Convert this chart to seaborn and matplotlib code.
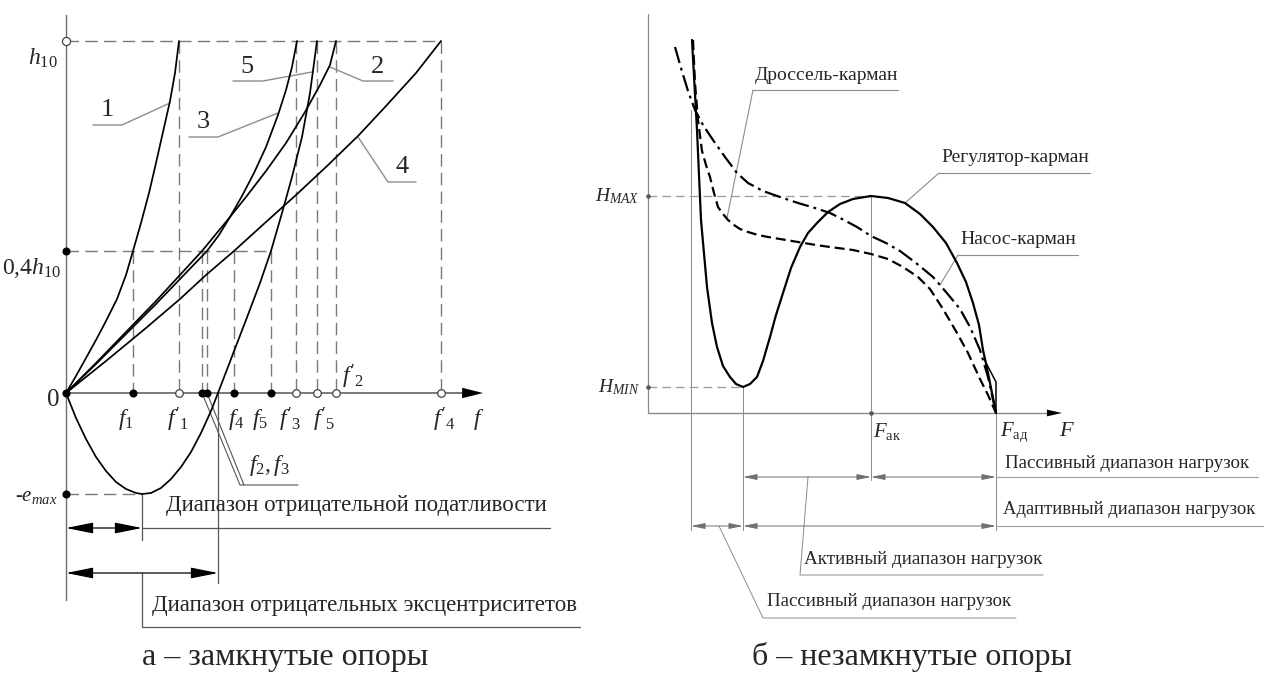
import matplotlib
matplotlib.use("Agg")
import matplotlib.pyplot as plt
from matplotlib.patches import ArrowStyle
import pandas as pd
import seaborn as sns

# ================= DATA: panel a (closed supports) =================
# units: pixels from the origin of the panel (f to the right, h upward)
H10 = 352          # level h10
H04 = 142          # level 0,4 h10 (as drawn)
E_MAX = -101       # level -e_max
E_MAX_F = 76       # f at -e_max
E_ZERO_F = 152     # f where curve 5 returns to zero

F_NAMES = ["0", "f1", "f'1", "f2", "f3", "f4", "f5", "f'3", "f'5", "f'2", "f'4"]
F_VALUES = [0, 67, 113, 136, 141, 168, 205, 230, 251, 270, 375]
F_FILLED = [True, True, False, True, True, True, True, False, False, False, False]
F_DROP = [None, H04, H10, H04, H04, H04, H04, H10, H10, H10, H10]

c1_f = [0, 10, 20, 30, 40, 51, 60, 67, 75, 83, 90, 97, 104, 109, 113]
c1_h = [0, 17, 35, 53, 72, 94, 118, 142, 170, 200, 230, 261, 292, 320, 352]
c2_f = [0, 30, 60, 90, 113, 136, 150, 164, 180, 200, 220, 239, 254, 264, 270]
c2_h = [0, 30, 61, 92, 117, 142, 159, 176, 196, 222, 250, 281, 308, 328, 352]
c3_f = [0, 30, 60, 90, 115, 141, 153, 164, 176, 188, 200, 212, 220, 226, 231]
c3_h = [0, 29, 59, 89, 115, 142, 158, 176, 197, 220, 246, 278, 303, 326, 352]
c4_f = [0, 40, 80, 114, 140, 168, 200, 230, 260, 292, 320, 350, 375]
c4_h = [0, 32, 65, 94, 118, 142, 171, 198, 226, 257, 287, 320, 352]
c5_f = [0, 10, 20, 30, 40, 50, 60, 70, 76, 85, 95, 105, 115, 125, 135, 145, 152,
        165, 180, 194, 205, 216, 226, 236, 244, 251]
c5_h = [0, -25, -46, -64, -78, -89, -96, -100, -101, -100, -95, -86, -74, -59, -40, -18, 0,
        34, 73, 110, 142, 180, 216, 256, 300, 352]

# ================= DATA: panel b (open supports) =================
H_MAX = 217
H_MIN = 26
F_AK = 223
F_AD = 348
F_MIN = 95
F_START = 43

reg_F = [44, 49, 53, 59, 64, 69, 75, 82, 88, 95, 102, 109, 115, 122, 128, 135, 143, 152, 160,
         169, 180, 192, 205, 223, 240, 257, 272, 285, 298, 309, 318, 325, 331, 335, 339, 342, 345, 348]
reg_H = [373, 283, 193, 126, 90, 66, 47, 36, 29, 26, 29, 36, 52, 76, 98, 120, 145, 166, 180,
         190, 201, 209, 214, 217, 215, 210, 199, 186, 170, 150, 131, 110, 88, 63, 45, 30, 15, 0]
drs_F = [45, 47, 50, 54, 58, 62, 66, 70, 75, 80, 86, 92, 100, 110, 120, 132, 150, 168, 182, 205,
         223, 240, 255, 270, 282, 295, 309, 320, 332, 340, 348]
drs_H = [373, 330, 293, 262, 248, 236, 220, 206, 199, 193, 188, 184, 181, 178, 176, 174, 171, 168,
         166, 163, 159, 154, 146, 136, 124, 104, 80, 60, 34, 18, 0]
nas_F = [27, 33, 40, 47, 55, 65, 77, 89, 100, 115, 132, 150, 167, 182, 196, 209, 223, 238, 252,
         268, 285, 298, 312, 322, 332, 340, 348]
nas_H = [366, 345, 322, 303, 288, 273, 256, 240, 230, 222, 216, 210, 205, 200, 193, 186, 177, 170,
         162, 150, 136, 121, 104, 86, 63, 36, 0]
kink_F = [336, 348, 348]
kink_H = [54, 31, 0]

# ================= STYLE =================
sns.set_style("white")
plt.rcParams["font.family"] = ["Liberation Serif", "DejaVu Serif"]
plt.rcParams["mathtext.fontset"] = "custom"
plt.rcParams["mathtext.rm"] = "Liberation Serif"
plt.rcParams["mathtext.it"] = "Liberation Serif:italic"
plt.rcParams["mathtext.bf"] = "Liberation Serif:bold"

AXC = "#6e6e6e"
DASHC = "#7a7a7a"
LEADC = "#8c8c8c"
DASH = (0, (9, 4.5))

fig = plt.figure(figsize=(12.64, 6.75), dpi=100)
fig.patch.set_facecolor("white")
axL = fig.add_axes([0, 0, 1, 1])
axR = fig.add_axes([0, 0, 1, 1])
for a in (axL, axR):
    a.patch.set_alpha(0)


def darrow(ax, x0, x1, y, hl, hw, ms, color, lw):
    ax.annotate("", xy=(x1, y), xytext=(x0, y),
                arrowprops=dict(arrowstyle=ArrowStyle("<|-|>", head_length=hl, head_width=hw),
                                mutation_scale=ms, color=color, lw=lw,
                                shrinkA=0, shrinkB=0))


def sarrow(ax, x0, x1, y, hl, hw, ms, color):
    ax.annotate("", xy=(x1, y), xytext=(x0, y),
                arrowprops=dict(arrowstyle=ArrowStyle("-|>", head_length=hl, head_width=hw),
                                mutation_scale=ms, color=color, lw=0.01,
                                shrinkA=0, shrinkB=0))


# ---------------- panel a ----------------
rows = []
for name, fs, hs in [("1", c1_f, c1_h), ("2", c2_f, c2_h), ("3", c3_f, c3_h),
                     ("4", c4_f, c4_h), ("5", c5_f, c5_h)]:
    for i, (f, h) in enumerate(zip(fs, hs)):
        rows.append({"curve": name, "i": i, "f": f, "h": h})
dfL = pd.DataFrame(rows)
sns.lineplot(data=dfL, x="f", y="h", units="curve", estimator=None, sort=False,
             color="black", lw=1.25, ax=axL, legend=False, zorder=4)

# axes
axL.plot([0, 0], [-207, 378], color=AXC, lw=1.0, zorder=2)
axL.plot([0, 400], [0, 0], color=AXC, lw=1.3, zorder=2)
sarrow(axL, 390, 417, 0, 1.0, 0.25, 15, "black")

# dashed guides
axL.plot([0, F_VALUES[-1]], [H10, H10], color=DASHC, lw=1.0, ls=DASH, zorder=1)
axL.plot([0, F_VALUES[6]], [H04, H04], color=DASHC, lw=1.0, ls=DASH, zorder=1)
axL.plot([0, E_MAX_F], [E_MAX, E_MAX], color=DASHC, lw=1.0, ls=DASH, zorder=1)
for fv, drop in zip(F_VALUES, F_DROP):
    if drop is not None:
        axL.plot([fv, fv], [drop, 0], color=DASHC, lw=1.0, ls=DASH, zorder=1)

# points
for fv, filled in zip(F_VALUES, F_FILLED):
    if filled:
        axL.scatter([fv], [0], s=34, color="black", zorder=6, linewidths=0)
    else:
        axL.scatter([fv], [0], s=30, facecolor="white", edgecolor="#444444", linewidths=0.9, zorder=6)
axL.scatter([0], [H10], s=34, facecolor="white", edgecolor="#444444", linewidths=0.9, zorder=6)
axL.scatter([0, 0], [H04, E_MAX], s=34, color="black", zorder=6, linewidths=0)

# axis labels
axL.text(-8, 335, r"$h_{10}$", ha="right", va="center", size=17)
axL.text(-5, 125, r"$0{,}4h_{10}$", ha="right", va="center", size=17)
axL.text(-9, -104, r"-$e_{max}$", ha="right", va="center", size=15)
axL.text(-13, -7, "0", ha="center", va="center", size=18)
for lab, x in [(r"$f_1$", 60), (r"$f'_1$", 112), (r"$f_4$", 170), (r"$f_5$", 194),
               (r"$f'_3$", 224), (r"$f'_5$", 258), (r"$f'_4$", 378), (r"$f$", 413)]:
    axL.text(x, -27, lab, ha="center", va="center", size=17)
axL.text(287, 16, r"$f'_2$", ha="center", va="center", size=17)

# f2, f3 leader
axL.plot([F_VALUES[3], 174, 232], [0, -92, -92], color="#555555", lw=0.8, zorder=3)
axL.plot([F_VALUES[4], 178], [0, -92], color="#555555", lw=0.8, zorder=3)
axL.text(203, -73, r"$f_2, f_3$", ha="center", va="center", size=17)

# curve number labels with leaders
for num, tx, ty, pts in [("1", 41, 283, [(27, 268), (56, 268), (104, 290)]),
                         ("3", 137, 271, [(123, 256), (152, 256), (212, 280)]),
                         ("5", 181, 326, [(167, 312), (197, 312), (246, 321)]),
                         ("2", 312, 326, [(327, 312), (297, 312), (264, 326)]),
                         ("4", 336, 226, [(350, 211), (322, 211), (292, 256)])]:
    axL.plot([p[0] for p in pts], [p[1] for p in pts], color=LEADC, lw=1.0, zorder=3)
    axL.text(tx, ty, num, ha="center", va="center", size=19)

# dimension lines
axL.plot([E_MAX_F, E_MAX_F], [E_MAX, -147], color="#555555", lw=0.9)
axL.plot([E_MAX_F, E_MAX_F], [-180, -234], color="#555555", lw=0.9)
axL.plot([E_ZERO_F, E_ZERO_F], [0, -190], color="#555555", lw=0.9)
axL.plot([E_MAX_F, 484], [-135, -135], color="#555555", lw=0.9)
darrow(axL, 0, E_MAX_F, -135, 1.4, 0.28, 12, "black", 0.9)
darrow(axL, 0, E_ZERO_F, -180, 1.4, 0.28, 12, "black", 0.9)
axL.plot([E_MAX_F, 514], [-234, -234], color="#555555", lw=0.9)
axL.text(100, -112, "Диапазон отрицательной податливости", ha="left", va="center", size=16.5)
axL.text(86, -212, "Диапазон отрицательных эксцентриситетов", ha="left", va="center", size=16.5)
axL.text(219, -265, "а – замкнутые опоры", ha="center", va="center", size=23)

# ---------------- panel b ----------------
rows = []
for name, fs, hs in [("Регулятор-карман", reg_F, reg_H), ("Дроссель-карман", drs_F, drs_H),
                     ("Насос-карман", nas_F, nas_H)]:
    for i, (f, h) in enumerate(zip(fs, hs)):
        rows.append({"curve": name, "i": i, "F": f, "H": h})
dfR = pd.DataFrame(rows)
sns.lineplot(data=dfR, x="F", y="H", style="curve", units="curve", estimator=None, sort=False,
             dashes={"Регулятор-карман": "", "Дроссель-карман": (4.5, 2.2),
                     "Насос-карман": (7.5, 2.2, 1.3, 2.2)},
             color="black", lw=1.6, ax=axR, legend=False, zorder=4)
axR.plot(kink_F, kink_H, color="black", lw=1.1, zorder=4)

THIN = "#8a8a8a"
axR.plot([0, 0], [0, 399], color=THIN, lw=0.9)
axR.plot([0, 402], [0, 0], color=THIN, lw=1.0)
sarrow(axR, 396, 414, 0, 0.9, 0.2, 12, "black")

axR.plot([0, F_AK], [H_MAX, H_MAX], color="#9a9a9a", lw=0.9, ls=(0, (7, 4)))
axR.plot([0, F_MIN], [H_MIN, H_MIN], color="#9a9a9a", lw=0.9, ls=(0, (7, 4)))
axR.scatter([0, 0, F_AK], [H_MAX, H_MIN, 0], s=5, color="#555555", zorder=5)

axR.plot([F_START, F_START], [303, -117], color=THIN, lw=0.7)
axR.plot([F_MIN, F_MIN], [H_MIN, -117], color=THIN, lw=0.7)
axR.plot([F_AK, F_AK], [H_MAX, -67], color=THIN, lw=0.7)
axR.plot([F_AD, F_AD], [0, -117], color=THIN, lw=0.7)

axR.text(-8, H_MAX, r"$H_{MAX}$", ha="right", va="center", size=14)
axR.text(-8, H_MIN, r"$H_{MIN}$", ha="right", va="center", size=14)
axR.text(F_AK + 2, -19, r"$F_{\mathrm{ак}}$", ha="left", va="center", size=15)
axR.text(F_AD + 4, -19, r"$F_{\mathrm{ад}}$", ha="left", va="center", size=15)
axR.text(419, -19, r"$F$", ha="center", va="center", size=16)

# curve labels
axR.text(178, 338, "Дроссель-карман", ha="center", va="center", size=14)
axR.plot([105, 250], [323, 323], color=LEADC, lw=0.8)
axR.plot([105, 79], [323, 195], color=LEADC, lw=0.8)
axR.text(367, 255, "Регулятор-карман", ha="center", va="center", size=14)
axR.plot([291, 442], [240, 240], color=LEADC, lw=0.8)
axR.plot([291, 257], [240, 210], color=LEADC, lw=0.8)
axR.text(370, 174, "Насос-карман", ha="center", va="center", size=14)
axR.plot([310, 430], [158, 158], color=LEADC, lw=0.8)
axR.plot([310, 292], [158, 128], color=LEADC, lw=0.8)

# load ranges
DIMC = "#707070"
axR.plot([F_AD, 610], [-64, -64], color="#a0a0a0", lw=0.8)
darrow(axR, F_MIN, F_AK, -64, 1.2, 0.25, 7, DIMC, 0.7)
darrow(axR, F_AK, F_AD, -64, 1.2, 0.25, 7, DIMC, 0.7)
axR.text(357, -50, "Пассивный диапазон нагрузок", ha="left", va="center", size=13.6)
axR.plot([F_AD, 616], [-113, -113], color="#a0a0a0", lw=0.8)
darrow(axR, F_START, F_MIN, -113, 1.2, 0.25, 7, DIMC, 0.7)
darrow(axR, F_MIN, F_AD, -113, 1.2, 0.25, 7, DIMC, 0.7)
axR.text(355, -97, "Адаптивный диапазон нагрузок", ha="left", va="center", size=13.4)
axR.plot([160, 152, 395], [-64, -162, -162], color=LEADC, lw=0.7)
axR.text(156, -147, "Активный диапазон нагрузок", ha="left", va="center", size=13.8)
axR.plot([71, 115, 368], [-113, -205, -205], color=LEADC, lw=0.7)
axR.text(119, -189, "Пассивный диапазон нагрузок", ha="left", va="center", size=13.6)
axR.text(264, -244, "б – незамкнутые опоры", ha="center", va="center", size=23)

# limits: 1 data unit = 1 pixel, origins of the two panels
axL.set_xlim(-66, 1264 - 66)
axL.set_ylim(393 - 675, 393)
axR.set_xlim(-648, 1264 - 648)
axR.set_ylim(413 - 675, 413)
for a in (axL, axR):
    a.axis("off")

fig.savefig("out.png", dpi=100, facecolor="white")
